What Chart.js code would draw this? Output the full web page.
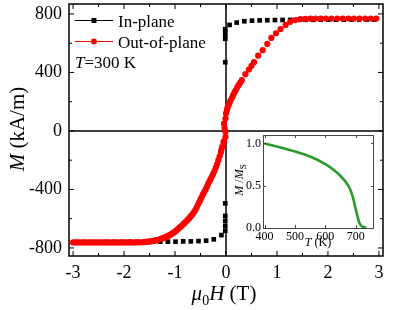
<!DOCTYPE html>
<html><head><meta charset="utf-8">
<script src="https://cdn.jsdelivr.net/npm/chart.js@4.4.0/dist/chart.umd.min.js"></script>
<style>
html,body{margin:0;padding:0;background:#fff;}
#wrap{position:relative;width:399px;height:310px;overflow:hidden;}
#main{position:absolute;left:0;top:0;}
#inset{position:absolute;left:228px;top:128px;}
</style></head><body>
<div id="wrap"><canvas id="main" width="399" height="310"></canvas><canvas id="inset" width="150" height="122"></canvas></div>
<script>
// ---------- data ----------
const xTicks = [-3, -2, -1, 0, 1, 2, 3];
const xMinorTicks = [-2.5, -1.5, -0.5, 0.5, 1.5, 2.5];
const yTicks = [-800, -400, 0, 400, 800];
const yMinorTicks = [-600, -200, 200, 600];

// In-plane (black squares)
const inPlaneH = [-2.94, -2.79, -2.64, -2.49, -2.34, -2.19, -2.04, -1.89, -1.74, -1.59,
  -1.44, -1.29, -1.14, -0.99, -0.84, -0.69, -0.54, -0.39, -0.24, -0.09,
  -0.015, -0.015, -0.015, -0.015, -0.015, -0.015, -0.015, -0.015, -0.015, -0.015,
  0.07, 0.21, 0.36, 0.51, 0.66, 0.81, 0.96, 1.11, 1.26, 1.41,
  1.56, 1.71, 1.86, 2.01, 2.16, 2.31, 2.46, 2.61, 2.76, 2.91];
const inPlaneM = [-760, -760, -760, -760, -759, -759, -759, -758, -758, -758,
  -757, -757, -757, -757, -755, -755, -753, -750, -741, -712,
  -683, -650, -615, -581, -495, 470, 630, 650, 675, 696,
  725, 741, 750, 754, 756, 757, 758, 759, 759, 760,
  760, 760, 761, 761, 761, 761, 762, 762, 762, 762];

// Out-of-plane (red circles), descending branch
const outDownH = [-3.00, -2.95, -2.90, -2.85, -2.80, -2.75, -2.70, -2.65, -2.60, -2.55,
  -2.50, -2.45, -2.40, -2.35, -2.30, -2.25, -2.20, -2.15, -2.10, -2.05,
  -2.00, -1.95, -1.90, -1.85, -1.80, -1.75, -1.70, -1.65, -1.60, -1.55,
  -1.50, -1.45, -1.40, -1.35, -1.30, -1.25, -1.20, -1.15, -1.10, -1.05,
  -1.00, -0.95, -0.90, -0.85, -0.80, -0.75, -0.70, -0.65, -0.60, -0.55,
  -0.50, -0.45, -0.40, -0.35, -0.30, -0.25, -0.20, -0.15, -0.10, -0.075,
  -0.05, -0.04, -0.01, -0.01, -0.03, -0.04, -0.01, 0.00, 0.02, 0.05,
  0.09, 0.12, 0.14, 0.19, 0.22, 0.25, 0.28, 0.31, 0.38, 0.45,
  0.50, 0.55, 0.63, 0.72, 0.81, 0.89, 0.98, 1.07, 1.17, 1.26,
  1.36, 1.46, 1.56, 1.66, 1.76, 1.86, 1.96, 2.07, 2.18, 2.29,
  2.40, 2.51, 2.62, 2.73, 2.84, 2.95];
const outDownM = [-762, -762, -762, -762, -762, -762, -762, -762, -762, -762,
  -762, -762, -762, -762, -762, -762, -762, -762, -762, -762,
  -762, -762, -762, -762, -762, -762, -761, -761, -760, -758,
  -756, -753, -750, -746, -741, -735, -728, -720, -711, -700,
  -688, -673, -658, -642, -625, -607, -588, -566, -540, -505,
  -468, -432, -400, -362, -328, -292, -250, -200, -145, -108,
  -80, -70, -40, -5, 20, 50, 85, 120, 142, 175,
  210, 228, 245, 278, 298, 315, 330, 347, 388, 420,
  445, 470, 515, 552, 595, 636, 668, 697, 725, 746,
  758, 764, 767, 768, 769, 769, 769, 769, 769, 769,
  769, 769, 769, 769, 769, 769];
// Out-of-plane, return branch (overlapping points read between the above)
const outUpH = [-1.575, -1.525, -1.475, -1.425, -1.375, -1.325, -1.275, -1.225, -1.175, -1.125,
  -1.075, -1.025, -0.975, -0.925, -0.875, -0.825, -0.775, -0.725, -0.675, -0.625,
  -0.575, -0.525, -0.475, -0.425, -0.375, -0.325, -0.275, -0.225, -0.175, -0.125,
  -0.09, 0.03, 0.07, 0.165];
const outUpM = [-759, -757, -755, -752, -748, -744, -738, -732, -724, -716,
  -706, -694, -681, -666, -650, -634, -616, -598, -577, -553,
  -523, -487, -450, -416, -381, -345, -310, -272, -226, -173,
  -128, 160, 192, 262];

// Inset: M/Ms vs T
const insetT = [400, 450, 500, 550, 600, 630, 650, 670, 680, 690, 695, 700, 705, 710, 715, 720, 728, 735];
const insetM = [1.0, 0.955, 0.905, 0.845, 0.755, 0.68, 0.615, 0.53, 0.47, 0.37, 0.30, 0.22, 0.15, 0.08, 0.04, 0.02, 0.008, 0.0];
const insetXTicks = [400, 500, 600, 700];
const insetYTicks = [0.0, 0.5, 1.0];

// ---------- helpers ----------
const SERIF = "'Liberation Serif', 'Times New Roman', serif";
function drawRuns(ctx, parts, x, y, align) {
  let w = 0;
  parts.forEach(p => { ctx.font = p.f; p.w = ctx.measureText(p.t).width; w += p.w; });
  let cx = align === 'center' ? x - w / 2 : x;
  ctx.textAlign = 'left';
  ctx.textBaseline = 'alphabetic';
  parts.forEach(p => { ctx.font = p.f; ctx.fillText(p.t, cx, y + (p.dy || 0)); cx += p.w; });
}
function noPad(s) { s.paddingTop = 0; s.paddingBottom = 0; s.paddingLeft = 0; s.paddingRight = 0; }

Chart.defaults.font.family = SERIF;
Chart.defaults.color = '#000';

// ---------- main chart ----------
const mainDeco = {
  id: 'mainDeco',
  beforeDatasetsDraw(chart) {
    const {ctx, chartArea: a, scales: {x, y}} = chart;
    ctx.save();
    ctx.strokeStyle = '#000';
    ctx.lineWidth = 1.5;
    const y0 = y.getPixelForValue(0), x0 = x.getPixelForValue(0);
    ctx.beginPath();
    ctx.moveTo(a.left, y0); ctx.lineTo(a.right, y0);
    ctx.moveTo(x0, a.top); ctx.lineTo(x0, a.bottom);
    ctx.stroke();
    ctx.restore();
  },
  afterDatasetsDraw(chart) {
    const {ctx, chartArea: a, scales: {x, y}} = chart;
    ctx.save();
    ctx.strokeStyle = '#000';
    ctx.lineWidth = 1.5;
    ctx.strokeRect(a.left, a.top, a.right - a.left, a.bottom - a.top);
    ctx.lineWidth = 1;
    ctx.beginPath();
    const tick = (vals, len) => {
      vals.forEach(v => {
        const px = x.getPixelForValue(v);
        ctx.moveTo(px, a.bottom); ctx.lineTo(px, a.bottom - len);
        ctx.moveTo(px, a.top); ctx.lineTo(px, a.top + len);
      });
    };
    const tickY = (vals, len) => {
      vals.forEach(v => {
        const py = y.getPixelForValue(v);
        ctx.moveTo(a.left, py); ctx.lineTo(a.left + len, py);
        ctx.moveTo(a.right, py); ctx.lineTo(a.right - len, py);
      });
    };
    tick(xTicks, 5); tick(xMinorTicks, 3);
    tickY(yTicks, 5); tickY(yMinorTicks, 3);
    ctx.stroke();

    // legend
    ctx.lineWidth = 1;
    ctx.strokeStyle = '#000';
    ctx.beginPath(); ctx.moveTo(75, 20.5); ctx.lineTo(113, 20.5); ctx.stroke();
    ctx.fillStyle = '#000'; ctx.fillRect(91.5, 18, 5, 5);
    ctx.strokeStyle = '#ff0000';
    ctx.beginPath(); ctx.moveTo(75, 41.5); ctx.lineTo(113, 41.5); ctx.stroke();
    ctx.fillStyle = '#ff0000';
    ctx.beginPath(); ctx.arc(94, 41.5, 3, 0, Math.PI * 2); ctx.fill();
    ctx.fillStyle = '#000';
    drawRuns(ctx, [{t: 'In-plane', f: '17px ' + SERIF}], 118, 26.5, 'left');
    drawRuns(ctx, [{t: 'Out-of-plane', f: '17px ' + SERIF}], 118, 47.5, 'left');
    drawRuns(ctx, [{t: 'T', f: 'italic 17px ' + SERIF}, {t: '=300 K', f: '17px ' + SERIF}], 75, 67.5, 'left');

    // axis titles
    drawRuns(ctx, [
      {t: 'μ', f: 'italic 21px ' + SERIF},
      {t: '0', f: '14px ' + SERIF, dy: 5},
      {t: 'H', f: 'italic 21px ' + SERIF},
      {t: ' (T)', f: '21px ' + SERIF}
    ], 224, 300, 'center');
    ctx.translate(24, 129);
    ctx.rotate(-Math.PI / 2);
    drawRuns(ctx, [
      {t: 'M', f: 'italic 21px ' + SERIF},
      {t: ' (kA/m)', f: '21px ' + SERIF}
    ], 0, 0, 'center');
    ctx.restore();
  }
};

new Chart(document.getElementById('main'), {
  type: 'scatter',
  data: {
    datasets: [
      {
        label: 'Out-of-plane',
        data: outDownH.map((h, i) => ({x: h, y: outDownM[i]}))
          .concat(outUpH.map((h, i) => ({x: h, y: outUpM[i]}))),
        pointStyle: 'circle', pointRadius: 3.1, borderWidth: 0,
        backgroundColor: '#ff0000', borderColor: '#ff0000', showLine: false, order: 0
      },
      {
        label: 'In-plane',
        data: inPlaneH.map((h, i) => ({x: h, y: inPlaneM[i]})),
        pointStyle: 'rect', pointRadius: 3.3, borderWidth: 0,
        backgroundColor: '#000', borderColor: '#000', showLine: false, order: 1
      }
    ]
  },
  options: {
    responsive: false, animation: false, devicePixelRatio: 1, events: [],
    layout: {padding: {left: 0, top: 4, right: 16, bottom: 0}},
    plugins: {legend: {display: false}, tooltip: {enabled: false}},
    scales: {
      x: {
        type: 'linear', min: -3.08, max: 3.08,
        grid: {display: false, drawTicks: false}, border: {display: false},
        afterBuildTicks: s => { s.ticks = xTicks.map(v => ({value: v})); },
        afterFit: s => { s.height = 54; noPad(s); },
        ticks: {autoSkip: false, maxRotation: 0, padding: 6, font: {size: 18, family: SERIF}, color: '#000', callback: v => String(v)}
      },
      y: {
        type: 'linear', min: -855, max: 868,
        grid: {display: false, drawTicks: false}, border: {display: false},
        afterBuildTicks: s => { s.ticks = yTicks.map(v => ({value: v})); },
        afterFit: s => { s.width = 69; noPad(s); },
        ticks: {autoSkip: false, padding: 7, font: {size: 18, family: SERIF}, color: '#000', callback: v => String(v)}
      }
    }
  },
  plugins: [mainDeco]
});

// ---------- inset ----------
const insetDeco = {
  id: 'insetDeco',
  beforeDraw(chart) {
    const {ctx, chartArea: a} = chart;
    ctx.save(); ctx.fillStyle = '#fff';
    ctx.fillRect(a.left, a.top, a.right - a.left, a.bottom - a.top);
    ctx.restore();
  },
  afterDraw(chart) {
    const {ctx, chartArea: a, scales: {x, y}} = chart;
    ctx.save();
    ctx.strokeStyle = '#444'; ctx.lineWidth = 1;
    ctx.strokeRect(a.left + 0.5, a.top + 0.5, a.right - a.left - 1, a.bottom - a.top);
    ctx.beginPath();
    insetXTicks.forEach(v => {
      const px = Math.round(x.getPixelForValue(v)) + 0.5;
      ctx.moveTo(px, a.bottom); ctx.lineTo(px, a.bottom - 3);
      ctx.moveTo(px, a.top); ctx.lineTo(px, a.top + 3);
    });
    insetYTicks.forEach(v => {
      const py = Math.round(y.getPixelForValue(v)) + 0.5;
      ctx.moveTo(a.left, py); ctx.lineTo(a.left + 3, py);
      ctx.moveTo(a.right, py); ctx.lineTo(a.right - 3, py);
    });
    ctx.stroke();
    ctx.fillStyle = '#000';
    drawRuns(ctx, [{t: 'T', f: 'italic 12px ' + SERIF}, {t: ' (K)', f: '12px ' + SERIF}], 90, 118, 'center');
    ctx.translate(15, 52);
    ctx.rotate(-Math.PI / 2);
    drawRuns(ctx, [
      {t: 'M', f: 'italic 12px ' + SERIF},
      {t: ' /', f: '12px ' + SERIF},
      {t: 'M', f: 'italic 12px ' + SERIF},
      {t: 'S', f: '9px ' + SERIF, dy: 3}
    ], 0, 0, 'center');
    ctx.restore();
  }
};

new Chart(document.getElementById('inset'), {
  type: 'scatter',
  data: {
    datasets: [{
      data: insetT.map((t, i) => ({x: t, y: insetM[i]})),
      showLine: true, borderColor: '#2a9a2a', borderWidth: 2.6,
      pointRadius: 0, cubicInterpolationMode: 'monotone'
    }]
  },
  options: {
    responsive: false, animation: false, devicePixelRatio: 1, events: [],
    layout: {padding: {left: 0, top: 7, right: 4, bottom: 0}},
    plugins: {legend: {display: false}, tooltip: {enabled: false}},
    scales: {
      x: {
        type: 'linear', min: 395, max: 760,
        grid: {display: false, drawTicks: false}, border: {display: false},
        afterBuildTicks: s => { s.ticks = insetXTicks.map(v => ({value: v})); },
        afterFit: s => { s.height = 22; noPad(s); },
        ticks: {autoSkip: false, maxRotation: 0, padding: 2, font: {size: 12, family: SERIF}, color: '#000'}
      },
      y: {
        type: 'linear', min: 0, max: 1.1,
        grid: {display: false, drawTicks: false}, border: {display: false},
        afterBuildTicks: s => { s.ticks = insetYTicks.map(v => ({value: v})); },
        afterFit: s => { s.width = 35; noPad(s); },
        ticks: {autoSkip: false, padding: 2, font: {size: 12, family: SERIF}, color: '#000', callback: v => v.toFixed(1)}
      }
    }
  },
  plugins: [insetDeco]
});
</script>
</body></html>
